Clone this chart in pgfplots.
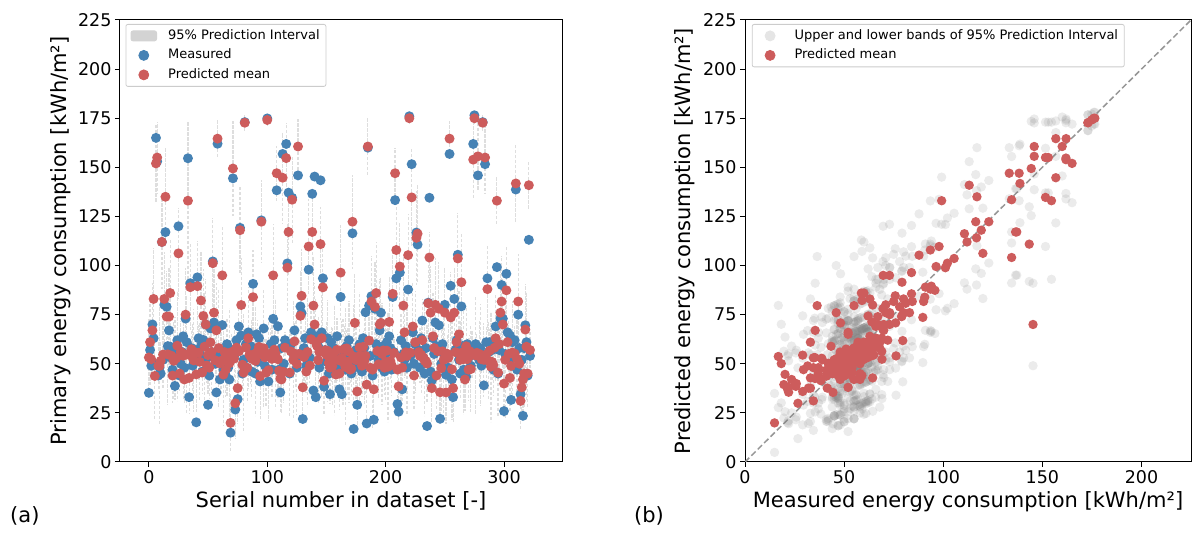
\documentclass[border=0pt]{standalone}
\usepackage{pgfplots}
\pgfplotsset{compat=1.18}
\usepackage{pgfplotstable}
\usepackage{fontspec}
\setmainfont{DejaVu Sans}
\definecolor{mblue}{RGB}{70,130,180}
\definecolor{mred}{RGB}{205,92,92}
\definecolor{band}{RGB}{211,211,211}
\definecolor{lgdframe}{RGB}{204,204,204}
\definecolor{diag}{RGB}{150,150,150}

\pgfplotstableread{
m p h
35.2 53.2 20
57 61 22
49 52.3 8
70 67 24
63 83 26
50 43.8 22
165 152 20
153 155 18
44 49 12
48 48.9 30
45 51.5 10
112 112 24
52 54.7 17
80 83 24
117 135 25
79 74 23
59 54.8 26
67 74 25
58.7 86 27
53 54.1 7
47 44 14
56 51.5 20
38.7 52.8 21
52 52.7 11
62 59.2 28
120 106.2 23
44 45 9
50 56 16
56 55.5 8
64 54.1 22
48 42 12
73 75 24
61 54.7 30
154.6 133 40
33 42.8 18
91 89 22
58 57.4 10
49 53 17
52 51.7 26
57 55.9 7
20.2 44.6 19
94 89.5 23
63 55.6 14
55 51 20
59 82.2 25
46 45.5 11
62.1 74.3 24
61 58.7 28
70 70 23
53 49.1 9
29.1 54.4 20
44 48 16
68 60.9 8
56 56 22
102.1 101.2 23
71 76 24
50 51.8 12
35.4 67 24
162 164.6 10
55 58 30
42 50.2 10
56 51.5 17
69.7 95 25
47 44.5 26
57 55.9 7
44 47 14
60 53.3 20
48 50.9 11
42 50.2 28
14.9 19.9 15
57 56 9
144.4 149.4 24
54 52.6 16
26.7 29.9 18
62 58.2 8
32 37.6 18
69 56.3 22
119.2 118 22
64.4 79.9 24
45 49.5 12
52 45.5 30
173 172.7 4
60 58.3 10
48 47.9 17
66 63 26
54 54.6 7
59 53.8 14
46 52.5 20
90.7 83.9 24
57 54.9 11
45 51.5 28
65 54.5 9
51 56.5 16
63 58.6 8
41 43.7 22
123 122.3 21
56 54.5 12
68 57.9 30
49 53.3 10
54 45.5 17
174.9 174.1 3
41 46.7 26
55 55 7
60 54.3 14
47 52.5 20
72.9 95 26
62 57.2 11
53 55.1 28
138.3 147 14
69.1 52.3 20
47 46.4 9
35.4 42.5 17
58 42 17
156.8 144.7 23
50 45.8 16
62 58.2 8
161.9 154.7 18
101.1 98.9 22
137.1 117.1 22
45 45.5 22
60 56.3 12
134.5 133.5 22
55 52 30
67 61.4 10
52 55 17
48 49.9 26
145.9 160.6 14
55 55 7
79.2 74.4 23
75.8 84.6 24
21.9 38 17
58 53.4 14
63 54.6 20
49 46 11
55 56 28
97.9 109.7 24
53 49.1 9
66 62.5 16
136.5 117.1 22
36.4 79.6 25
145.3 70 21
33 61 22
64 59.1 8
59 51.8 22
48 56 12
143.4 110.9 19
66 63 30
93.5 88.9 22
38.3 41.4 17
57 56.9 10
51 54.5 17
63 56.6 26
45 50.5 7
34.5 48 18
61 54.7 14
50 48.8 20
58 55.4 11
46 52 28
53 44.5 9
64 57.1 16
48 51.9 8
37 45 18
84 96.4 24
34.5 53 19
57 50.9 22
51 57.5 12
47 48.4 30
59 57.8 10
55 51 17
62 56.2 26
49 47 7
45 47.5 14
116.4 122.3 24
16.8 53.7 26
48.2 70.8 25
57 51.9 20
29.1 35.9 17
54 53.6 11
60 58.3 28
52 54 9
46 49 16
63 58.6 8
58 51.4 22
76.2 54 20
19.6 39.4 17
160 160.6 15
79.6 61.8 21
54 48 12
84.4 81.7 23
44 47 30
21.5 37 17
78 79 23
60 86 26
56 56.5 10
52 49.7 17
67 70 23
76 70.8 23
48 55 26
59 56.8 7
46 48 14
55 51 20
61 56.7 11
50 48.5 28
64 71.3 23
58 51.4 9
47 49.4 16
84 85.6 24
56 55.5 8
133.3 147 13
93.5 107.9 25
29.5 47 18
25.6 38.5 17
96.4 99.5 22
62 53.2 22
37 48 18
55 79.6 25
52 66 23
59 55.8 12
48 54 30
87.8 105.3 21
176 175 3
54 55.6 10
151.6 134.7 25
66 69 22
50 44 17
60 61 26
116.8 114.1 24
110.7 116.2 25
57 55.9 7
48 54 14
63 54.6 20
72 62 21
53 53.1 11
45 51.5 28
58 51.4 9
18.3 50.1 20
81.1 80.8 24
134.5 104.1 13
46 76 24
41.5 37.6 17
63 64 22
55 58 16
71 80 24
59 44 17
58 56.4 8
69.6 78 24
22 35.5 16
50 47.8 22
60 56.3 12
55 52 30
80 76 23
44.4 35.4 16
53 55.1 10
48 53 17
156.8 164.6 9
89.7 73.6 23
42 47.2 26
33 37.6 17
83 76 23
57 55.9 7
62 61 14
105.5 103.6 23
52 65 22
45 52 20
79.2 91.5 25
59 55.8 11
47 52.4 28
55 42 16
43.4 58.9 20
60 52.3 9
53 47 16
58 56.4 8
49 47.3 22
56 54.5 12
161.9 153.9 20
176.5 175 3
60 54.3 30
54 55.6 10
145.9 155.6 17
52 55 17
58 54.4 26
49 52.3 7
173 172.7 4
39 52 19
151.6 155 18
61 54.7 14
93.5 88 22
56 51.5 20
61 56.7 11
50 48.5 28
57 50.9 9
47 49.4 16
62 58.2 8
69 63 22
99.2 133 12
45 45.5 22
57 60 12
73 76 23
90.1 81.7 23
73 70 23
25.9 39.9 17
55 52 30
95.8 87.4 22
66 61 10
52 55 17
64.4 42.8 17
31.6 48.9 18
61 55.7 26
55 55 7
62 55.2 14
138.7 141.8 20
47 52.5 20
75 81.7 24
58 50 11
34.5 31.1 15
52 38 16
23.5 42 17
58 45 17
69.6 67.4 23
61 58.7 28
44 45 17
113.1 140.9 12
54 57 9
}\data

\pgfplotsset{
  common/.style={
    scale only axis,
    anchor=south west,
    height=442pt,
    ymin=0, ymax=225,
    ytick={0,25,...,225},
    tick align=outside,
    xtick pos=lower, ytick pos=left,
    major tick length=5pt,
    every tick/.style={black, line width=1pt},
    axis line style={line width=1pt, black},
    tick label style={font=\fontsize{17.5}{20}\selectfont},
    label style={font=\fontsize{21}{25}\selectfont},
    /pgf/number format/assume math mode=true,
    legend cell align=left,
    legend style={
      at={(axis description cs:0,1)}, anchor=north west,
      draw=lgdframe, line width=0.8pt, rounded corners=2pt, fill=white,
      font=\fontsize{13}{15.6}\selectfont,
      inner xsep=4.7pt, inner ysep=4pt, row sep=4.5pt,
      nodes={inner sep=1.5pt, text height=9.5pt, text depth=2.5pt},
      /tikz/every odd column/.append style={column sep=9.7pt},
    },
  },
  dotimg/.style={legend image code/.code={\path (-12.8pt,0pt) (12.8pt,0pt);\fill[#1] (0pt,0pt) circle (5pt);}},
}

\begin{document}
\begin{tikzpicture}
\begin{axis}[common,
  at={(120pt,72pt)}, width=442pt,
  xmin=-24.4, xmax=349, xtick={0,100,200,300},
  xlabel={Serial number in dataset [-]},
  ylabel={Primary energy consumption [kWh/m²]},
  xlabel style={at={(axis description cs:0.5,-0.1029)}, anchor=base},
  ylabel style={at={(axis description cs:-0.121,0.5)}, anchor=base},
  legend style={xshift=5.5pt, yshift=-4pt},
]
\addlegendimage{legend image code/.code={\fill[band] (-12.8pt,-5pt) rectangle (12.8pt,5pt);}}
\addlegendentry{95\% Prediction Interval}
\addplot[only marks, mark=none, forget plot,
  error bars/.cd, y dir=both, y explicit, error mark=none,
  error bar style={draw=band, draw opacity=0.75, line width=1.2pt, dash pattern=on 3.5pt off 1.5pt}]
  table[x expr=\coordindex, y=p, y error=h] {\data};
\addplot[only marks, mark=*, mark size=5pt, color=mblue, mark options={fill=mblue, draw opacity=0}, dotimg=mblue]
  table[x expr=\coordindex, y=m] {\data};
\addlegendentry{Measured}
\addplot[only marks, mark=*, mark size=5pt, color=mred, mark options={fill=mred, draw opacity=0}, dotimg=mred]
  table[x expr=\coordindex, y=p] {\data};
\addlegendentry{Predicted mean}
\end{axis}

\begin{axis}[common,
  at={(745pt,72pt)}, width=446pt,
  xmin=0, xmax=225, xtick={0,50,100,150,200},
  xlabel={Measured energy consumption [kWh/m²]},
  ylabel={Predicted energy consumption [kWh/m²]},
  xlabel style={at={(axis description cs:0.5,-0.1029)}, anchor=base},
  ylabel style={at={(axis description cs:-0.1211,0.5)}, anchor=base},
  legend style={xshift=6.8pt, yshift=-4pt},
]
\addplot[only marks, mark=*, mark size=4.7pt, color=gray, mark options={fill=gray, fill opacity=0.16, draw opacity=0}, dotimg={gray!20}]
  table[x=m, y expr=\thisrow{p}+\thisrow{h}] {\data};
\addlegendentry{Upper and lower bands of 95\% Prediction Interval}
\addplot[only marks, mark=*, mark size=4.7pt, color=gray, mark options={fill=gray, fill opacity=0.16, draw opacity=0}, forget plot]
  table[x=m, y expr=\thisrow{p}-\thisrow{h}] {\data};
\addplot[only marks, mark=*, mark size=4.7pt, color=mred, mark options={fill=mred, draw opacity=0}, dotimg=mred]
  table[x=m, y=p] {\data};
\addlegendentry{Predicted mean}
\addplot[diag, line width=1.5pt, dash pattern=on 6pt off 3pt, forget plot] coordinates {(0,0) (225,225)};
\end{axis}

\node[anchor=base west, inner sep=0pt, font=\fontsize{21}{25}\selectfont] at (10pt,11pt) {(a)};
\node[anchor=base west, inner sep=0pt, font=\fontsize{21}{25}\selectfont] at (634pt,11pt) {(b)};
\pgfresetboundingbox
\useasboundingbox (0pt,0pt) rectangle (1192pt,534pt);
\end{tikzpicture}
\end{document}
